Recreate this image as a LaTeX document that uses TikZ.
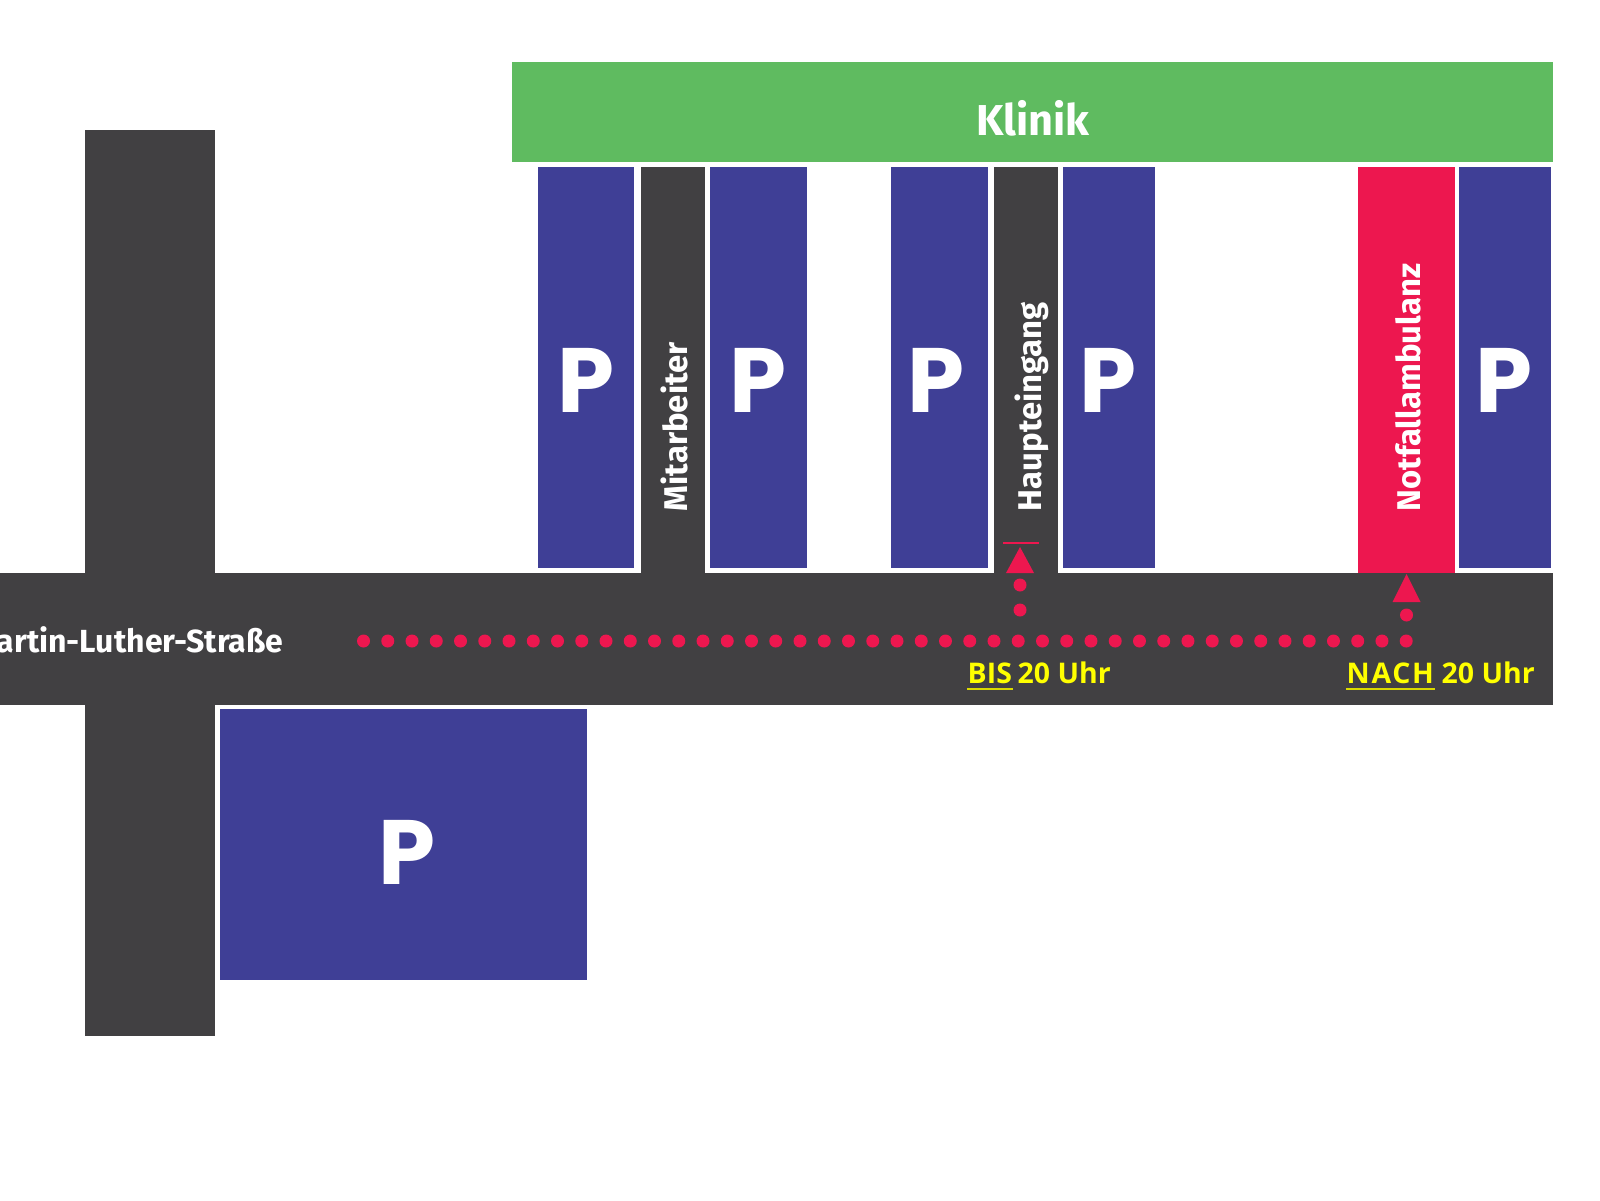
\documentclass[tikz,border=0pt]{standalone}
\usepackage{fontspec}
\setmainfont{Fira Sans}
\newfontfamily\parkfont{Poppins}
\newfontfamily\notefont{Open Sans}
\usepackage{tikz}
\usetikzlibrary{calc}
\definecolor{roadgrey}{RGB}{65,64,66}
\definecolor{clinicgreen}{RGB}{95,187,96}
\definecolor{parkblue}{RGB}{63,63,150}
\definecolor{routered}{RGB}{237,23,79}
\definecolor{noteyellow}{RGB}{255,255,0}
\tikzset{
  parkbox/.style={fill=parkblue},
  parkmark/.style={text=white,inner sep=0pt,font=\parkfont\fontsize{26}{26}\bfseries\selectfont},
  lanetext/.style={text=white,inner sep=0pt,rotate=90,anchor=base west,font=\fontsize{9.35}{10}\bfseries\selectfont},
  notetext/.style={text=noteyellow,inner sep=0pt,anchor=base west,font=\notefont\fontsize{8.1}{10}\bfseries\selectfont},
  noteline/.style={line width=0.35pt,noteyellow!85!black},
  routedot/.style={fill=routered}
}

\begin{document}
\begin{tikzpicture}
    \useasboundingbox (0,0) rectangle (16,12);
    % Roads
    \fill[roadgrey] (0.845,10.70) rectangle (2.15,1.64);
    \fill[roadgrey] (0,6.27) rectangle (15.53,4.95);
    \node[text=white,inner sep=0pt,anchor=base east,font=\fontsize{9.1}{10}\bfseries\selectfont] (streetname) at (2.84,5.48) {Martin-Luther-Straße};
    % Clinic
    \fill[clinicgreen] (5.12,11.38) rectangle (15.53,10.38);
    \node[text=white,inner sep=0pt,font=\fontsize{12.3}{14}\bfseries\selectfont] (clinic) at (10.33,10.82) {Klinik};
    % Parking strips
    \foreach \xa/\xb/\xp/\pname in {5.38/6.34/5.86/parka,7.10/8.07/7.58/parkb,8.91/9.88/9.36/parkc,10.63/11.55/11.08/parkd,14.59/15.51/15.04/parke}{
      \fill[parkbox] (\xa,10.33) rectangle (\xb,6.32);
      \node[parkmark] (\pname) at (\xp,8.20) {P};
    }
    % Big car park
    \fill[parkbox] (2.20,4.91) rectangle (5.87,2.20);
    \node[parkmark] (parkbig) at (4.07,3.48) {P};
    % Lanes
    \fill[roadgrey] (6.41,10.33) rectangle (7.05,6.27);
    \node[lanetext] (staff) at (6.87,6.88) {Mitarbeiter};
    \fill[roadgrey] (9.94,10.33) rectangle (10.58,6.27);
    \node[lanetext] (mainentry) at (10.41,6.88) {Haupteingang};
    \fill[routered] (13.58,10.33) rectangle (14.55,6.27);
    \node[lanetext] (emergency) at (14.20,6.88) {Notfallambulanz};
    % Route dots
    \coordinate (routestart) at (3.635,5.59);
    \coordinate (turnbis) at (10.20,5.59);
    \coordinate (turnnach) at (14.065,5.59);
    \foreach \xx in {0,...,43}{
      \fill[routedot] ($(routestart)+(\xx*0.2425,0)$) circle (0.065);
    }
    \foreach \yy in {0.31,0.56}{
      \fill[routedot] ($(turnbis)+(0,\yy)$) circle (0.065);
    }
    \fill[routedot] ($(turnnach)+(0,0.26)$) circle (0.065);
    % Arrow heads
    \fill[routered] ($(turnbis)+(-0.14,0.68)$) -- ($(turnbis)+(0.14,0.68)$) -- ($(turnbis)+(0,0.94)$) -- cycle;
    \draw[routered,line width=0.4pt] ($(turnbis)+(-0.17,0.98)$) -- ($(turnbis)+(0.19,0.98)$);
    \fill[routered] ($(turnnach)+(-0.14,0.39)$) -- ($(turnnach)+(0.14,0.39)$) -- ($(turnnach)+(0,0.67)$) -- cycle;
    % Notes
    \node[notetext] (bisword) at (9.67,5.17) {BIS};
    \node[notetext] (bistime) at (10.17,5.17) {20 Uhr};
    \draw[noteline] ($(bisword.base west)+(0,-0.06)$) -- ($(bisword.base east)+(0,-0.06)$);
    \node[notetext] (nachword) at (13.46,5.17) {\addfontfeature{LetterSpace=6}NACH};
    \node[notetext] (nachtime) at (14.41,5.17) {20 Uhr};
    \draw[noteline] ($(nachword.base west)+(0,-0.06)$) -- ($(nachword.base east)+(0,-0.06)$);
  \end{tikzpicture}
\end{document}
